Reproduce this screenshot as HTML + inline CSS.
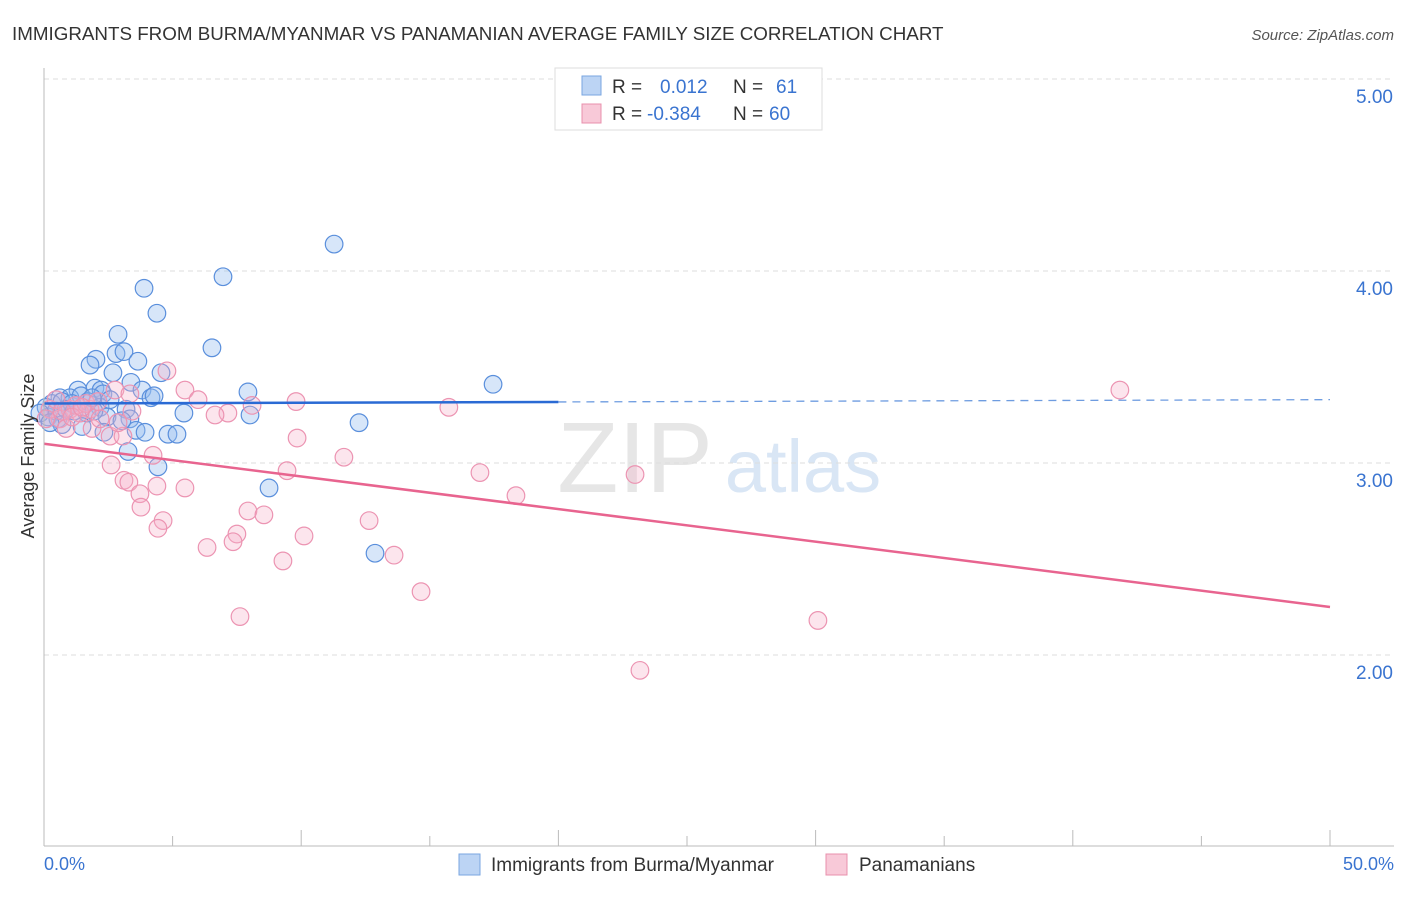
<!DOCTYPE html>
<html><head><meta charset="utf-8"><style>
body{margin:0;background:#fff;font-family:"Liberation Sans",sans-serif}
svg text{font-family:"Liberation Sans",sans-serif}
</style></head><body>
<svg id="c" width="1406" height="892">
<text x="12" y="40" font-size="18.8" fill="#333">IMMIGRANTS FROM BURMA/MYANMAR VS PANAMANIAN AVERAGE FAMILY SIZE CORRELATION CHART</text>
<text x="1394" y="40" font-size="15" fill="#555" font-style="italic" text-anchor="end">Source: ZipAtlas.com</text>
<text x="635" y="492" font-size="100" fill="#e6e6e6" font-family="Liberation Serif" text-anchor="middle">ZIP</text>
<text x="803" y="492" font-size="74" fill="#d9e6f5" text-anchor="middle">atlas</text>
<g id="grid"></g><g id="pts"></g><g id="lines"></g>
<line x1="44" y1="68" x2="44" y2="846" stroke="#bbb"/>
<line x1="44" y1="846" x2="1394" y2="846" stroke="#bbb"/>
<text x="34" y="456" font-size="18" fill="#333" text-anchor="middle" transform="rotate(-90 34 456)">Average Family Size</text>
<text x="44" y="870" font-size="18" fill="#3a74d0">0.0%</text>
<text x="1394" y="870" font-size="18" fill="#3a74d0" text-anchor="end">50.0%</text>
<g>
<rect x="555" y="68" width="267" height="62" fill="#fff" stroke="#ddd"/>
<rect x="582" y="76" width="19" height="19" fill="#bcd4f4" stroke="#7aa6e0"/>
<rect x="582" y="104" width="19" height="19" fill="#f8c9d8" stroke="#e890ac"/>
<text x="612" y="93" font-size="19" fill="#333">R = <tspan fill="#3a74d0" x="660">0.012</tspan><tspan x="733">N =</tspan><tspan fill="#3a74d0" x="776">61</tspan></text>
<text x="612" y="120" font-size="19" fill="#333">R = <tspan fill="#3a74d0" x="647">-0.384</tspan><tspan x="733">N =</tspan><tspan fill="#3a74d0" x="769">60</tspan></text>
</g>
<g>
<rect x="459" y="854" width="21" height="21" fill="#bcd4f4" stroke="#7aa6e0"/>
<text x="491" y="871" font-size="19" fill="#333">Immigrants from Burma/Myanmar</text>
<rect x="826" y="854" width="21" height="21" fill="#f8c9d8" stroke="#e890ac"/>
<text x="859" y="871" font-size="19" fill="#333">Panamanians</text>
</g>
</svg>
<script>
const yTicks=[2,3,4,5];
const yTickLabels=["2.00","3.00","4.00","5.00"];
const blueX=[11.28,6.96,3.89,4.39,2.88,6.53,2.80,3.11,2.02,3.65,1.79,2.68,4.55,3.38,17.46,1.32,1.98,2.22,3.81,7.93,0.62,1.01,1.44,2.29,4.16,4.28,0.31,0.70,1.09,1.71,2.18,3.19,5.44,8.01,0.16,0.54,1.67,2.45,3.34,0.47,1.48,2.33,3.58,3.93,4.82,5.17,12.25,3.27,4.43,8.75,12.87,0.86,1.17,0.08,1.94,2.57,-0.16,0.70,0.23,3.03,1.87];
const blueY=[4.14,3.97,3.91,3.78,3.67,3.60,3.57,3.58,3.54,3.53,3.51,3.47,3.47,3.42,3.41,3.38,3.39,3.38,3.38,3.37,3.34,3.34,3.35,3.36,3.34,3.35,3.31,3.32,3.31,3.32,3.29,3.28,3.26,3.25,3.24,3.23,3.26,3.24,3.23,3.27,3.19,3.16,3.17,3.16,3.15,3.15,3.21,3.06,2.98,2.87,2.53,3.28,3.27,3.29,3.27,3.33,3.26,3.20,3.21,3.22,3.34];
const pinkX=[41.83,4.78,2.76,5.48,5.99,7.15,8.09,9.80,15.74,6.65,3.42,1.87,1.79,2.57,3.07,9.84,11.66,4.24,2.61,9.45,16.95,22.98,3.11,3.30,3.73,4.39,5.48,18.35,3.77,7.93,8.55,4.63,4.43,12.64,7.50,10.11,7.35,6.34,13.61,9.29,14.66,7.62,30.09,23.17,0.62,1.01,1.40,0.23,0.86,1.24,2.18,0.47,1.63,0.08,2.88,3.34,2.10,0.70,1.09,1.48];
const pinkY=[3.38,3.48,3.38,3.38,3.33,3.26,3.30,3.32,3.29,3.25,3.27,3.18,3.28,3.14,3.14,3.13,3.03,3.04,2.99,2.96,2.95,2.94,2.91,2.90,2.84,2.88,2.87,2.83,2.77,2.75,2.73,2.70,2.66,2.70,2.63,2.62,2.59,2.56,2.52,2.49,2.33,2.20,2.18,1.92,3.23,3.28,3.26,3.28,3.18,3.30,3.23,3.33,3.31,3.23,3.21,3.36,3.32,3.27,3.24,3.29];
const blueTrend=[3.31,3.33];
const pinkTrend=[3.10,2.25];
const X=p=>44+p/50*1286, Y=v=>79+(5-v)*192;
const NS="http://www.w3.org/2000/svg";
function mk(t,a,p){const e=document.createElementNS(NS,t);for(const k in a)e.setAttribute(k,a[k]);p.appendChild(e);return e;}
const g=document.getElementById('grid');
yTicks.forEach((v,i)=>{
 const l=mk('line',{x1:44,x2:1394,y1:Y(v),y2:Y(v),stroke:'#ddd','stroke-dasharray':'5,4'},g);
 
 
 const t=mk('text',{x:1393,y:Y(v)+24,'font-size':19,fill:'#3a74d0','text-anchor':'end'},g);
 t.textContent=yTickLabels[i];
 
 
});
for(let i=0;i<=10;i++){
 const l=mk('line',{x1:X(i*5),x2:X(i*5),y1:846,y2:i%2?836:830,stroke:'#bbb'},g);
 
 
}
const pg=document.getElementById('pts');
blueX.forEach((x,i)=>{
 const c=mk('circle',{cx:X(x),cy:Y(blueY[i]),r:8.8,fill:'rgba(150,188,238,0.38)',stroke:'#5a8fdc','stroke-width':1.2},pg);
 
 
});
pinkX.forEach((x,i)=>{
 const c=mk('circle',{cx:X(x),cy:Y(pinkY[i]),r:8.8,fill:'rgba(245,175,198,0.32)',stroke:'#ec94b2','stroke-width':1.2},pg);
 
 
});
const lg=document.getElementById('lines');
const b0=blueTrend[0],b1=blueTrend[1],bm=b0+(b1-b0)*0.4;
let l=mk('line',{x1:X(0),y1:Y(b0),x2:X(20),y2:Y(bm),stroke:'#2a6ad4','stroke-width':2.5},lg);


l=mk('line',{x1:X(20),y1:Y(bm),x2:X(50),y2:Y(b1),stroke:'#6e9ce0','stroke-width':1.3,'stroke-dasharray':'8,6'},lg);


l=mk('line',{x1:X(0),y1:Y(pinkTrend[0]),x2:X(50),y2:Y(pinkTrend[1]),stroke:'#e8648f','stroke-width':2.5},lg);


</script>
</body></html>
